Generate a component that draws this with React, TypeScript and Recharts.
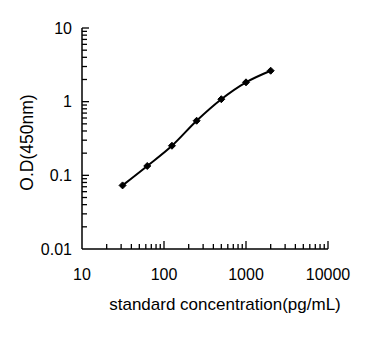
import React from 'react';
import { LineChart, Line, XAxis, YAxis } from 'recharts';

const concentrations = [31.25, 62.5, 125, 250, 500, 1000, 2000];
const odValues = [0.073, 0.134, 0.252, 0.551, 1.08, 1.83, 2.63];
const xMajorTicks = [10, 100, 1000, 10000];
const yMajorTicks = [0.01, 0.1, 1, 10];

const data = concentrations.map((c, i) => ({ conc: c, od: odValues[i] }));

const minorTicks = (majors: number[]) => {
  const out: number[] = [];
  for (let i = 0; i < majors.length - 1; i++) {
    for (let k = 1; k <= 9; k++) out.push(+(majors[i] * k).toPrecision(6));
  }
  out.push(majors[majors.length - 1]);
  return out;
};

const xTicks = minorTicks(xMajorTicks);
const yTicks = minorTicks(yMajorTicks);

const isMajor = (v: number, majors: number[]) => majors.some((m) => Math.abs(m - v) / m < 1e-6);

const FONT = 'Liberation Sans, Arial, sans-serif';

const XTick = (props: any) => {
  const { x, y, payload } = props;
  const v = payload.value;
  const major = isMajor(v, xMajorTicks);
  return (
    <g>
      {v !== 10 && <line x1={x} x2={x} y1={y} y2={y - (major ? 8 : 5)} stroke="#000" strokeWidth={1.3} />}
      {major && (
        <text x={x} y={y + 25} textAnchor="middle" dominantBaseline="central" fontSize={16} fontFamily={FONT} fill="#000">
          {v}
        </text>
      )}
    </g>
  );
};

const YTick = (props: any) => {
  const { x, y, payload } = props;
  const v = payload.value;
  const major = isMajor(v, yMajorTicks);
  return (
    <g>
      {v !== 0.01 && <line x1={x} x2={x + (major ? 7 : 5)} y1={y} y2={y} stroke="#000" strokeWidth={1.3} />}
      {major && (
        <text x={x - 10} y={y} textAnchor="end" dominantBaseline="central" fontSize={16} fontFamily={FONT} fill="#000">
          {v}
        </text>
      )}
    </g>
  );
};

const Diamond = (props: any) => {
  const { cx, cy } = props;
  if (cx == null || cy == null) return null;
  const r = 3.5;
  return <path d={`M${cx},${cy - r}L${cx + r},${cy}L${cx},${cy + r}L${cx - r},${cy}Z`} fill="#000" stroke="#000" />;
};

const YLabel = (props: any) => {
  const vb = props.viewBox || {};
  const cx = (vb.x ?? 0) + 27;
  const cy = (vb.y ?? 0) + (vb.height ?? 0) / 2 + 4;
  return (
    <text
      x={cx}
      y={cy}
      transform={`rotate(-90 ${cx} ${cy})`}
      textAnchor="middle"
      dominantBaseline="central"
      fontSize={17.5}
      fontFamily={FONT}
      fill="#000"
    >
      O.D(450nm)
    </text>
  );
};

export default function App() {
  return (
    <div style={{ position: 'absolute', left: 0, top: 0, background: '#fff' }}>
      <LineChart width={369} height={364} data={data} margin={{ top: 28, right: 41, bottom: 0, left: 0 }}>
        <XAxis
          dataKey="conc"
          type="number"
          scale="log"
          domain={[10, 10000]}
          ticks={xTicks}
          interval={0}
          allowDataOverflow
          tick={<XTick />}
          tickLine={false}
          tickSize={0}
          tickMargin={0}
          height={115}
          axisLine={{ stroke: '#000', strokeWidth: 1.5 }}
          label={{
            value: 'standard concentration(pg/mL)',
            position: 'insideTop',
            offset: 49,
            dx: 20,
            fontSize: 17,
            fontFamily: FONT,
            fill: '#000',
          }}
        />
        <YAxis
          type="number"
          scale="log"
          domain={[0.01, 10]}
          ticks={yTicks}
          interval={0}
          allowDataOverflow
          tick={<YTick />}
          tickLine={false}
          tickSize={0}
          tickMargin={0}
          width={82}
          axisLine={{ stroke: '#000', strokeWidth: 1.5 }}
          label={<YLabel />}
        />
        <Line
          dataKey="od"
          type="monotone"
          stroke="#000"
          strokeWidth={2}
          dot={<Diamond />}
          activeDot={false}
          isAnimationActive={false}
        />
      </LineChart>
    </div>
  );
}
